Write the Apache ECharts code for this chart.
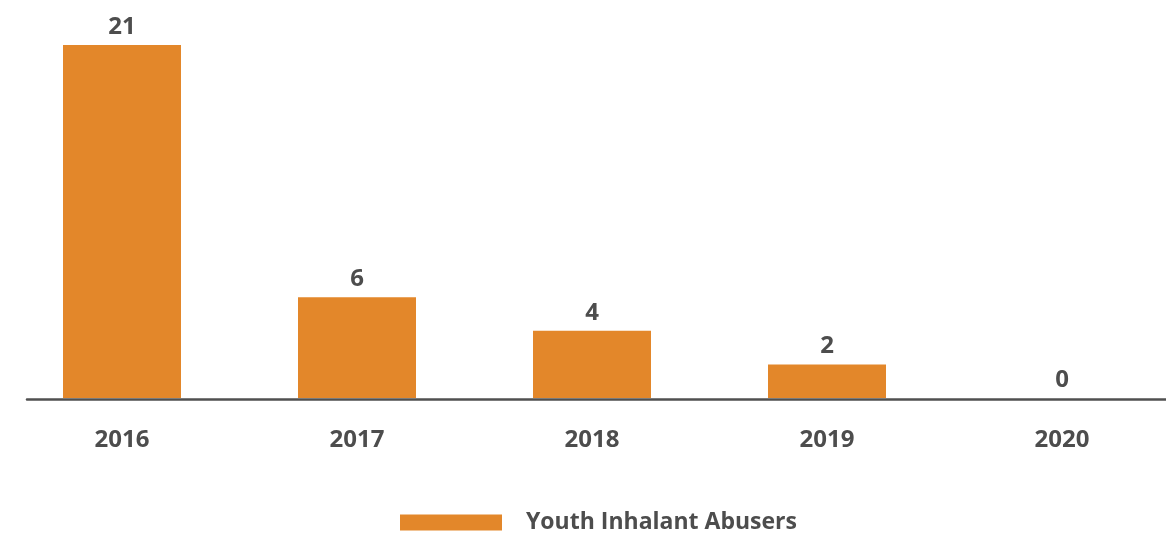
<!DOCTYPE html>
<html>
<head>
<meta charset="utf-8">
<script src="https://cdn.jsdelivr.net/npm/echarts@6/dist/echarts.min.js"></script>
<style>
  html, body { margin: 0; padding: 0; background: #ffffff; }
  #chart { width: 1166px; height: 536px; }
</style>
</head>
<body>
<div id="chart"></div>
<script>
// Youth inhalant abusers per year
const years = ['2016', '2017', '2018', '2019', '2020'];
const abusers = [21, 6, 4, 2, 0];
const seriesName = 'Youth Inhalant Abusers';

const textColor = '#4d4d4d';
const barColor = '#e3872a';
const fontFamily = '"Open Sans", "DejaVu Sans", sans-serif';

const chart = echarts.init(document.getElementById('chart'), null, { renderer: 'canvas' });

chart.setOption({
  animation: false,
  backgroundColor: '#ffffff',
  textStyle: { fontFamily: fontFamily },
  grid: [
    // plot area for the bars (its last band runs past the right edge)
    { left: 4.5, width: 1175, top: 45, bottom: 138, containLabel: false, outerBoundsMode: 'none' },
    // baseline rule, which starts a little to the right of the first band
    { left: 27, right: 0, top: 45, bottom: 137, containLabel: false, outerBoundsMode: 'none' }
  ],
  legend: {
    data: [seriesName],
    left: 400,
    top: 511,
    padding: 0,
    itemWidth: 102,
    itemHeight: 16,
    icon: 'rect',
    textStyle: {
      color: textColor,
      fontSize: 23,
      fontWeight: 'bold',
      fontFamily: fontFamily,
      padding: [0, 0, 0, 19]
    }
  },
  xAxis: [
    {
      type: 'category',
      gridIndex: 0,
      data: years,
      axisLine: { show: false },
      axisTick: { show: false },
      axisLabel: {
        color: textColor,
        fontSize: 24,
        fontWeight: 'bold',
        fontFamily: fontFamily,
        margin: 30
      }
    },
    {
      type: 'value',
      gridIndex: 1,
      axisLine: { show: true, onZero: false, lineStyle: { color: '#505050', width: 2.5 } },
      axisTick: { show: false },
      axisLabel: { show: false },
      splitLine: { show: false }
    }
  ],
  yAxis: [
    { type: 'value', gridIndex: 0, min: 0, max: 21, show: false },
    { type: 'value', gridIndex: 1, show: false }
  ],
  series: [
    {
      name: seriesName,
      type: 'bar',
      xAxisIndex: 0,
      yAxisIndex: 0,
      data: abusers,
      barWidth: 118,
      itemStyle: { color: barColor },
      label: {
        show: true,
        position: 'top',
        distance: 6,
        color: textColor,
        fontSize: 24,
        fontWeight: 'bold',
        fontFamily: fontFamily
      }
    }
  ]
});
</script>
</body>
</html>
